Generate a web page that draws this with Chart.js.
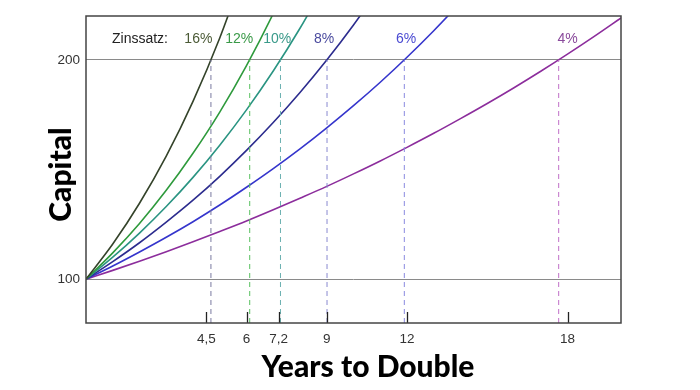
<!DOCTYPE html>
<html>
<head>
<meta charset="utf-8">
<script src="https://cdn.jsdelivr.net/npm/chart.js@4"></script>
<style>
    html, body { margin: 0; padding: 0; background: #fff; }
    #wrap { width: 700px; height: 390px; }
</style>
</head>
<body>
<div id="wrap"><canvas id="grafico"></canvas></div>
<script>
// =======================
// DATA
// =======================
const years = [0, 1, 2, 3, 4, 5, 6, 7, 8, 9, 10, 11, 12, 13, 14, 15, 16, 17, 18, 19, 20];

const rateLabels = ["16%", "12%", "10%", "8%", "6%", "4%"];

const capital16 = [100, 116, 134.6, 156.1, 181.1, 210.0, 243.6];
const capital12 = [100, 112, 125.4, 140.5, 157.4, 176.2, 197.4, 221.1, 247.6];
const capital10 = [100, 110, 121, 133.1, 146.4, 161.1, 177.2, 194.9, 214.4, 235.8];
const capital8  = [100, 108, 116.6, 126.0, 136.0, 146.9, 158.7, 171.4, 185.1, 199.9, 215.9, 233.2];
const capital6  = [100, 106, 112.4, 119.1, 126.2, 133.8, 141.9, 150.4, 159.4, 169.0, 179.1, 189.8, 201.2, 213.3, 226.1];
const capital4  = [100, 104, 108.2, 112.5, 117.0, 121.7, 126.5, 131.6, 136.9, 142.3, 148.0, 153.9, 160.1, 166.5, 173.2, 180.1, 187.3, 194.8, 202.6, 210.7, 219.1];

// actual doubling times (dashed drops)
const doublingYears = [4.67, 6.12, 7.27, 9.01, 11.9, 17.67];

// rule-of-72 ticks
const xTicks = [4.5, 6, 7.2, 9, 12, 18];
const yTicks = [100, 200];

// =======================
// STYLE
// =======================
const lineColors  = ["#34432a", "#2e9a3c", "#2a9482", "#2c2c8e", "#3535cc", "#8c2d9c"];
const labelColors = ["#4b5a36", "#3a9a48", "#3a9a8a", "#4a4a9e", "#4a4ad2", "#8a4a9c"];
const dashColors  = ["#7a7aa0", "#58c060", "#6ab0b0", "#8a8ad0", "#8a8ae0", "#c070c8"];
const labelX = [4.2, 5.73, 7.15, 8.9, 11.97, 18.0];

const series = [capital16, capital12, capital10, capital8, capital6, capital4];

// =======================
// DATASETS
// =======================
const datasets = [];

doublingYears.forEach((t, i) => {
    datasets.push({
        data: [{ x: t, y: 80 }, { x: t, y: 200 }],
        borderColor: dashColors[i],
        borderWidth: 1,
        borderDash: [5, 4],
        pointRadius: 0
    });
});

series.forEach((vals, i) => {
    datasets.push({
        data: vals.map((v, k) => ({ x: years[k], y: v })),
        borderColor: lineColors[i],
        borderWidth: 1.6,
        pointRadius: 0,
        cubicInterpolationMode: "monotone"
    });
});

// =======================
// PLUGIN
// =======================
const extras = {
    id: "extras",
    afterDraw(chart) {
        const { ctx, chartArea: a, scales } = chart;
        const x = scales.x, y = scales.y;

        ctx.save();

        // ticks inside the plot
        ctx.strokeStyle = "#222";
        ctx.lineWidth = 1.3;
        xTicks.forEach(t => {
            const px = Math.round(x.getPixelForValue(t)) + 0.5;
            ctx.beginPath();
            ctx.moveTo(px, a.bottom);
            ctx.lineTo(px, a.bottom - 11);
            ctx.stroke();
        });

        // frame
        ctx.strokeStyle = "#444";
        ctx.lineWidth = 1.5;
        ctx.strokeRect(a.left, a.top, a.right - a.left, a.bottom - a.top);

        // rate labels
        const ly = y.getPixelForValue(209.6);
        ctx.font = "14px 'Liberation Sans', Arial, sans-serif";
        ctx.textBaseline = "middle";
        ctx.textAlign = "left";
        ctx.fillStyle = "#222";
        ctx.fillText("Zinssatz:", 112, ly);

        ctx.textAlign = "center";
        rateLabels.forEach((lab, i) => {
            ctx.fillStyle = labelColors[i];
            ctx.fillText(lab, x.getPixelForValue(labelX[i]), ly);
        });

        // axis titles
        ctx.fillStyle = "#000";
        ctx.font = "900 30px Lato, 'DejaVu Sans', sans-serif";
        ctx.fillText("Years to Double", 368, 367);

        ctx.translate(61, (a.top + a.bottom) / 2 + 5);
        ctx.rotate(-Math.PI / 2);
        ctx.fillText("Capital", 0, 0);

        ctx.restore();
    }
};

// =======================
// CHART
// =======================
new Chart(document.getElementById("grafico"), {
    type: "line",
    data: { datasets },
    options: {
        responsive: true,
        maintainAspectRatio: false,
        animation: false,
        layout: { padding: { left: 0, right: 79, top: 16, bottom: 0 } },
        plugins: {
            legend: { display: false },
            tooltip: { enabled: false }
        },
        scales: {
            x: {
                type: "linear",
                min: 0,
                max: 20,
                afterBuildTicks: s => { s.ticks = xTicks.map(v => ({ value: v })); },
                afterFit: s => { s.height = 67; },
                grid: { display: false },
                border: { display: false },
                ticks: {
                    padding: 0,
                    maxRotation: 0,
                    autoSkip: false,
                    color: "#333",
                    font: { family: "'Liberation Sans', Arial, sans-serif", size: 13.5 },
                    callback: v => String(v).replace(".", ",")
                }
            },
            y: {
                type: "linear",
                min: 80,
                max: 220,
                afterBuildTicks: s => { s.ticks = yTicks.map(v => ({ value: v })); },
                afterFit: s => { s.width = 86; },
                grid: { color: "#8a8a8a", lineWidth: 1, drawTicks: false },
                border: { display: false },
                ticks: {
                    padding: 6,
                    color: "#333",
                    font: { family: "'Liberation Sans', Arial, sans-serif", size: 13.5 }
                }
            }
        }
    },
    plugins: [extras]
});
</script>
</body>
</html>
